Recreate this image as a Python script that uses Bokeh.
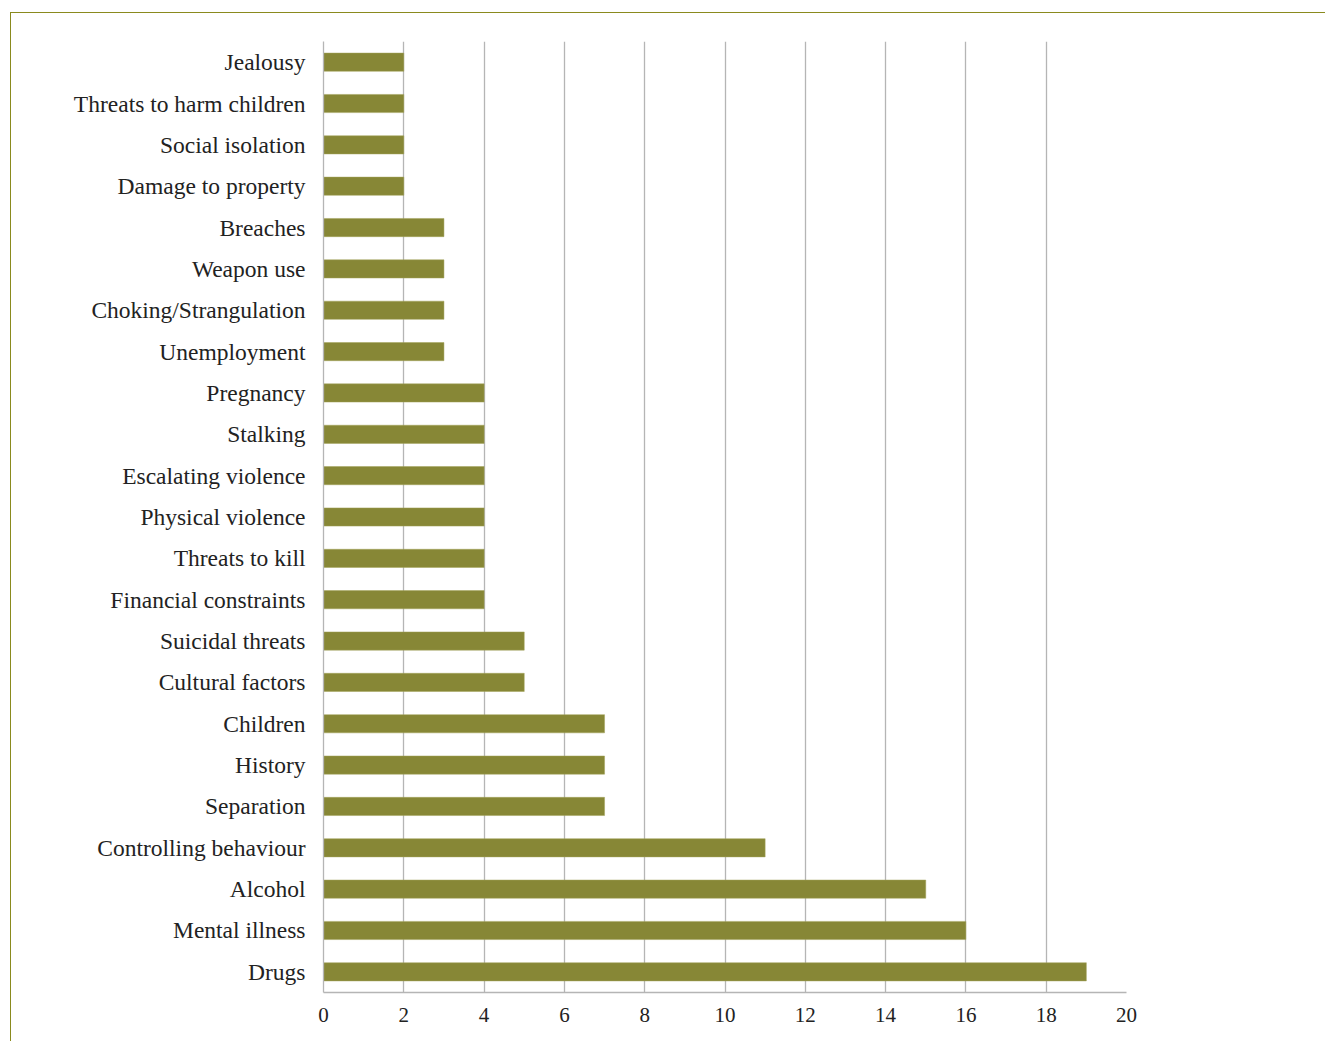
from bokeh.plotting import figure
from bokeh.models import FactorRange, ColumnDataSource, FixedTicker, Range1d
from bokeh.layouts import column
from bokeh.embed import file_html
from bokeh.resources import INLINE

categories = ["Jealousy", "Threats to harm children", "Social isolation", "Damage to property",
              "Breaches", "Weapon use", "Choking/Strangulation", "Unemployment", "Pregnancy",
              "Stalking", "Escalating violence", "Physical violence", "Threats to kill",
              "Financial constraints", "Suicidal threats", "Cultural factors", "Children",
              "History", "Separation", "Controlling behaviour", "Alcohol", "Mental illness", "Drugs"]
counts = [2, 2, 2, 2, 3, 3, 3, 3, 4, 4, 4, 4, 4, 4, 5, 5, 7, 7, 7, 11, 15, 16, 19]
x_ticks = [0, 2, 4, 6, 8, 10, 12, 14, 16, 18, 20]

FONT = "Liberation Serif"
BAR = "#878736"
GRID = "#b5b5b5"

src = ColumnDataSource(dict(cat=categories, val=counts))

p = figure(width=1314, height=1028, output_backend="svg", toolbar_location=None,
           y_range=FactorRange(factors=list(reversed(categories)), range_padding=0),
           x_range=Range1d(0, 20),
           min_border_left=312, min_border_right=199, min_border_top=28, min_border_bottom=49)
p.hbar(y="cat", right="val", left=0, height=0.44, source=src,
       fill_color=BAR, line_color="#a3a35a", line_width=0.5)

p.outline_line_color = None
p.ygrid.grid_line_color = None
p.xgrid.grid_line_color = GRID
p.xgrid.grid_line_width = 1.3
p.xaxis.ticker = FixedTicker(ticks=x_ticks)
for ax in (p.xaxis[0], p.yaxis[0]):
    ax.axis_line_color = GRID
    ax.axis_line_width = 1.3
    ax.major_tick_line_color = None
    ax.minor_tick_line_color = None
    ax.major_label_text_font = FONT
    ax.major_label_text_color = "#222222"
p.xaxis.major_label_text_font_size = "21px"
p.xaxis.major_label_standoff = 9
p.yaxis.major_label_text_font_size = "23.5px"
p.yaxis.major_label_standoff = 12
p.background_fill_color = "white"
p.border_fill_color = "white"

layout = column(p, styles={"margin-left": "10px", "margin-top": "12px",
                           "border-top": "1.5px solid #8a8a1e",
                           "border-left": "1.5px solid #8a8a1e"})

open("out.html", "w").write(file_html(layout, INLINE))
